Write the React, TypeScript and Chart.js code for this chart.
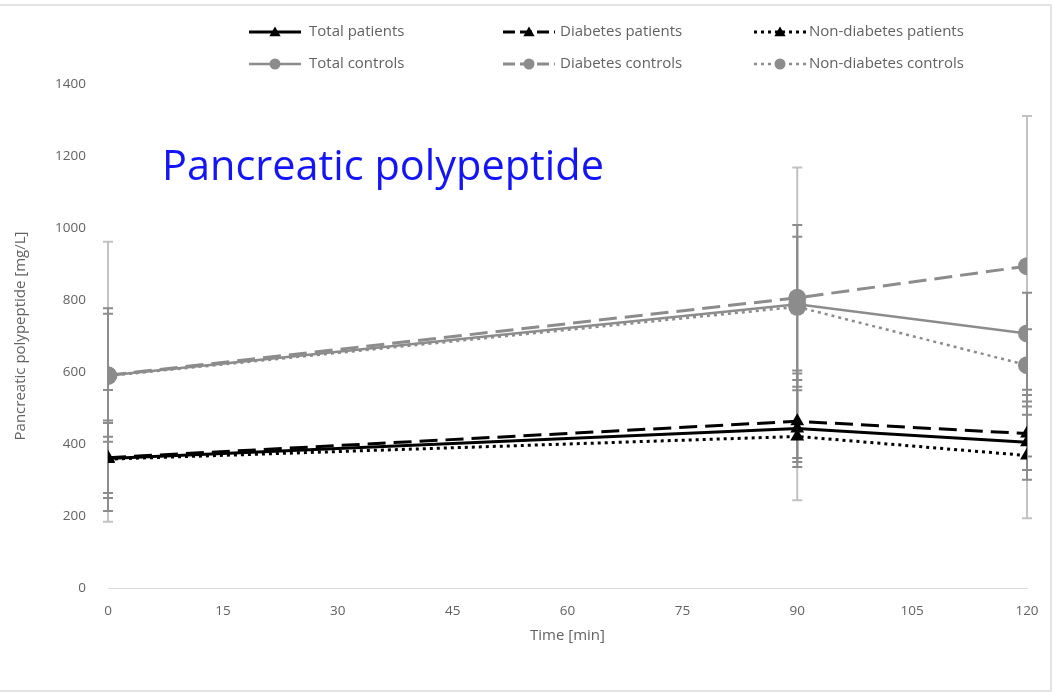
import React, { useEffect, useRef } from "react";
import { Chart, registerables } from "chart.js";

Chart.register(...registerables);

// ---- data ----
const timePoints = [0, 90, 120];
const xTickStep = 15;
const xMin = 0;
const xMax = 120;
const yTickStep = 200;
const yMin = 0;
const yMax = 1400;

const seriesNames = [
  "Total patients",
  "Diabetes patients",
  "Non-diabetes patients",
  "Total controls",
  "Diabetes controls",
  "Non-diabetes controls",
];

const totalPatients = [360, 443, 405];
const diabetesPatients = [362, 463, 429];
const nonDiabetesPatients = [358, 421, 368];
const totalControls = [590, 788, 707];
const diabetesControls = [591, 806, 894];
const nonDiabetesControls = [589, 781, 619];

// error bar extents (upper, lower)
const totalPatientsErrUp = [105, 153, 131];
const totalPatientsErrDown = [96, 93, 40];
const diabetesPatientsErrUp = [188, 141, 122];
const diabetesPatientsErrDown = [148, 127, 128];
const nonDiabetesPatientsErrUp = [100, 128, 113];
const nonDiabetesPatientsErrDown = [108, 60, 40];
const totalControlsErrUp = [187, 220, 113];
const totalControlsErrDown = [184, 229, 189];
const diabetesControlsErrUp = [371, 362, 417];
const diabetesControlsErrDown = [407, 562, 700];
const nonDiabetesControlsErrUp = [173, 195, 100];
const nonDiabetesControlsErrDown = [169, 203, 115];

const titleText = "Pancreatic polypeptide";
const yAxisTitle = "Pancreatic polypeptide [mg/L]";
const xAxisTitle = "Time [min]";

const BLACK = "#000000";
const GRAY = "#8c8c8c";
const LIGHT_GRAY = "#c2c2c2";
const TEXT = "#626262";
const FONT = "'Open Sans', 'DejaVu Sans', sans-serif";

const means = [
  totalPatients,
  diabetesPatients,
  nonDiabetesPatients,
  totalControls,
  diabetesControls,
  nonDiabetesControls,
];
const errUps = [
  totalPatientsErrUp,
  diabetesPatientsErrUp,
  nonDiabetesPatientsErrUp,
  totalControlsErrUp,
  diabetesControlsErrUp,
  nonDiabetesControlsErrUp,
];
const errDowns = [
  totalPatientsErrDown,
  diabetesPatientsErrDown,
  nonDiabetesPatientsErrDown,
  totalControlsErrDown,
  diabetesControlsErrDown,
  nonDiabetesControlsErrDown,
];
const errColors = [GRAY, GRAY, GRAY, GRAY, LIGHT_GRAY, GRAY];
const errDrawOrder = [4, 3, 5, 0, 1, 2];

const DASH = [18, 8];
const DOT = [3, 4];

const styles = [
  { color: BLACK, dash: [] as number[], width: 3, point: "triangle", r: 8 },
  { color: BLACK, dash: DASH, width: 3, point: "triangle", r: 8 },
  { color: BLACK, dash: DOT, width: 3, point: "triangle", r: 8 },
  { color: GRAY, dash: [] as number[], width: 2.5, point: "circle", r: 9 },
  { color: GRAY, dash: DASH, width: 3, point: "circle", r: 9 },
  { color: GRAY, dash: DOT, width: 2.5, point: "circle", r: 9 },
];

function drawMarker(ctx: CanvasRenderingContext2D, kind: string, x: number, y: number, r: number) {
  ctx.beginPath();
  if (kind === "circle") {
    ctx.arc(x, y, r, 0, Math.PI * 2);
  } else {
    ctx.moveTo(x, y - r);
    ctx.lineTo(x + r * 0.866, y + r * 0.5);
    ctx.lineTo(x - r * 0.866, y + r * 0.5);
    ctx.closePath();
  }
  ctx.fill();
}

const errorBarPlugin = {
  id: "errorBars",
  beforeDatasetsDraw(chart: any) {
    const { ctx, scales } = chart;
    const xs = scales.x;
    const ys = scales.y;
    ctx.save();
    ctx.lineWidth = 2;
    errDrawOrder.forEach((s) => {
      ctx.strokeStyle = errColors[s];
      timePoints.forEach((t, i) => {
        const px = xs.getPixelForValue(t);
        const top = ys.getPixelForValue(means[s][i] + errUps[s][i]);
        const bot = ys.getPixelForValue(means[s][i] - errDowns[s][i]);
        ctx.beginPath();
        ctx.moveTo(px, top);
        ctx.lineTo(px, bot);
        ctx.moveTo(px - 5, top);
        ctx.lineTo(px + 5, top);
        ctx.moveTo(px - 5, bot);
        ctx.lineTo(px + 5, bot);
        ctx.stroke();
      });
    });
    ctx.restore();
  },
};

const legendSampleX = [249, 503, 754];
const legendTextX = [309, 560, 809];
const legendRows = [32, 64];

const overlayPlugin = {
  id: "overlay",
  afterDraw(chart: any) {
    const { ctx } = chart;
    ctx.save();
    // legend
    ctx.font = `15px ${FONT}`;
    ctx.textBaseline = "middle";
    ctx.textAlign = "left";
    seriesNames.forEach((name, i) => {
      const col = i % 3;
      const row = Math.floor(i / 3);
      const x0 = legendSampleX[col];
      const y0 = legendRows[row];
      const st = styles[i];
      const len = 52;
      ctx.strokeStyle = st.color;
      ctx.fillStyle = st.color;
      ctx.lineWidth = st.width;
      ctx.setLineDash(st.dash.length ? (st.dash === DASH ? [12, 5] : [3, 4]) : []);
      ctx.beginPath();
      ctx.moveTo(x0, y0);
      ctx.lineTo(x0 + len, y0);
      ctx.stroke();
      ctx.setLineDash([]);
      drawMarker(ctx, st.point, x0 + len / 2, y0 + (st.point === "circle" ? 0 : 1), st.point === "circle" ? 5.5 : 6.5);
      ctx.fillStyle = TEXT;
      ctx.fillText(name, legendTextX[col], y0);
    });
    // title
    ctx.fillStyle = "#1414f8";
    ctx.font = `41.5px ${FONT}`;
    ctx.textBaseline = "alphabetic";
    ctx.fillText(titleText, 162, 180, 442);
    ctx.restore();
  },
};

export default function App() {
  const ref = useRef<HTMLCanvasElement | null>(null);

  useEffect(() => {
    if (!ref.current) return;
    const datasets = seriesNames.map((name, i) => ({
      label: name,
      data: timePoints.map((t, j) => ({ x: t, y: means[i][j] })),
      borderColor: styles[i].color,
      backgroundColor: styles[i].color,
      borderWidth: styles[i].width,
      borderDash: styles[i].dash,
      pointStyle: styles[i].point,
      pointRadius: styles[i].r,
      pointBackgroundColor: styles[i].color,
      pointBorderColor: styles[i].color,
      pointBorderWidth: 0,
      tension: 0,
      fill: false,
    }));

    const chart = new Chart(ref.current, {
      type: "line",
      data: { datasets },
      plugins: [errorBarPlugin, overlayPlugin],
      options: {
        animation: false,
        responsive: false,
        devicePixelRatio: 1,
        layout: { padding: { top: 84, right: 27, bottom: 0, left: 0 } },
        plugins: {
          legend: { display: false },
          tooltip: { enabled: false },
          title: { display: false },
        },
        scales: {
          x: {
            type: "linear",
            min: xMin,
            max: xMax,
            afterFit: (s: any) => {
              s.height = 105;
            },
            grid: { display: false, drawTicks: false },
            border: { display: true, color: "#d9d9d9", width: 1 },
            ticks: {
              stepSize: xTickStep,
              padding: 15,
              color: TEXT,
              font: { family: FONT, size: 13.5 },
              callback: (v: any) => String(v),
            },
            title: {
              display: true,
              text: xAxisTitle,
              color: TEXT,
              font: { family: FONT, size: 15 },
              padding: { top: 0, bottom: 48 },
            },
          },
          y: {
            type: "linear",
            min: yMin,
            max: yMax,
            afterFit: (s: any) => {
              s.width = 108;
            },
            grid: { display: false, drawTicks: false },
            border: { display: false },
            ticks: {
              stepSize: yTickStep,
              padding: 22,
              color: TEXT,
              font: { family: FONT, size: 13.5 },
              callback: (v: any) => String(v),
            },
            title: {
              display: true,
              text: yAxisTitle,
              color: TEXT,
              font: { family: FONT, size: 15 },
              padding: { top: 12, bottom: 0 },
            },
          },
        },
      } as any,
    });
    return () => chart.destroy();
  }, []);

  return (
    <div style={{ position: "fixed", left: 0, top: 0, width: 1054, height: 693, background: "#fff", overflow: "hidden" }}>
      <canvas ref={ref} width={1054} height={693} style={{ position: "absolute", left: 0, top: 0, width: 1054, height: 693 }} />
      <div
        style={{
          position: "absolute",
          left: -10,
          top: 4,
          width: 1062,
          height: 688,
          boxSizing: "border-box",
          border: "2px solid #e4e4e4",
          pointerEvents: "none",
        }}
      />
    </div>
  );
}
